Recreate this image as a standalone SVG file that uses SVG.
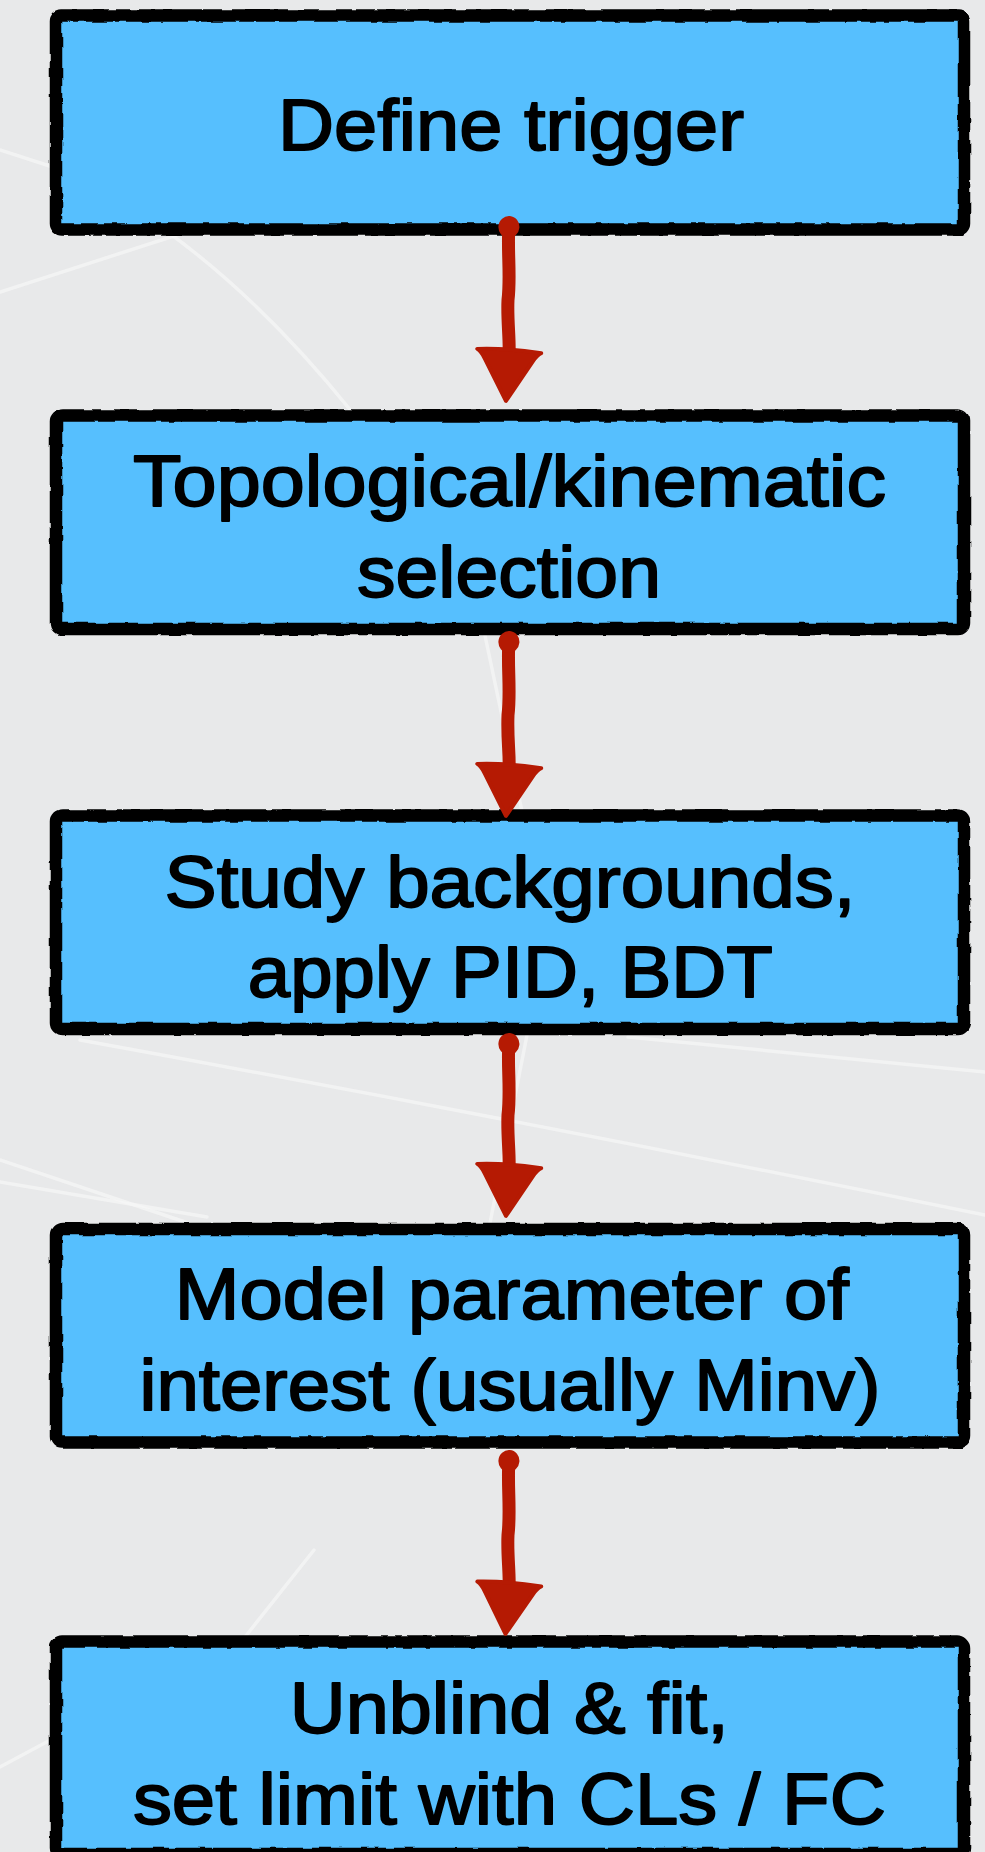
<svg xmlns="http://www.w3.org/2000/svg" width="985" height="1852" viewBox="0 0 985 1852">
<style>
.bg{fill:#E8E9EA}
.bgl{fill:none;stroke:#F6F7F7;stroke-width:3.5;stroke-opacity:0.7;stroke-linecap:round}
.fill{fill:#56BFFE;stroke:none}
.border{fill:none;stroke:#000;stroke-width:12.5;stroke-linejoin:round}
.lbl{font-family:"Liberation Sans",Arial,Helvetica,sans-serif;font-size:72px;fill:#000;stroke:#000;stroke-width:1.8;stroke-linejoin:round;text-anchor:middle}
.shaft{fill:none;stroke:#B51A03;stroke-width:13;stroke-linecap:round;marker-start:url(#cap);marker-end:url(#head)}
</style>
<defs>
<filter id="rough" x="-3%" y="-3%" width="106%" height="106%">
<feTurbulence type="fractalNoise" baseFrequency="0.06" numOctaves="2" seed="4" result="n"/>
<feDisplacementMap in="SourceGraphic" in2="n" scale="4" xChannelSelector="R" yChannelSelector="G"/>
</filter>
<marker id="head" markerUnits="userSpaceOnUse" viewBox="-56 -40 62 80" markerWidth="62" markerHeight="80" refX="-45" refY="0" orient="auto">
<path d="M-49,-32 Q-47,-28 -40,-24 L1,0 L-40,24 Q-47,28 -49,32 Q-52,0 -49,-32 Z" fill="#B51A03" stroke="#B51A03" stroke-width="4" stroke-linejoin="round"/>
</marker>
<marker id="cap" markerUnits="userSpaceOnUse" viewBox="-14 -14 28 28" markerWidth="28" markerHeight="28" refX="0" refY="0" orient="auto">
<ellipse cx="1" cy="0" rx="11" ry="10.5" fill="#B51A03"/>
</marker>
</defs>
<rect class="bg" x="0" y="0" width="985" height="1852"/>
<g id="background-lines">
<path class="bgl" d="M0,150 L62,170"/>
<path class="bgl" d="M0,292 L230,218"/>
<path class="bgl" d="M165,230 Q262,300 352,412"/>
<path class="bgl" d="M483,626 L523,816"/>
<path class="bgl" d="M80,1040 Q520,1120 985,1215"/>
<path class="bgl" d="M0,1160 L188,1223"/>
<path class="bgl" d="M528,1030 L490,1223"/>
<path class="bgl" d="M628,1037 L985,1072"/>
<path class="bgl" d="M0,1182 L207,1217"/>
<path class="bgl" d="M314,1550 L245,1637"/>
<path class="bgl" d="M0,1767 L56,1737"/>
</g>
<g id="node1">
<rect class="fill" x="56" y="15.5" width="908" height="214" rx="6"/>
<rect class="border" x="56" y="15.5" width="908" height="214" rx="6" filter="url(#rough)"/>
<text class="lbl" x="511" y="150" textLength="466" lengthAdjust="spacingAndGlyphs">Define trigger</text>
</g>
<g id="node2">
<rect class="fill" x="56" y="415.5" width="908" height="213.5" rx="6"/>
<rect class="border" x="56" y="415.5" width="908" height="213.5" rx="6" filter="url(#rough)"/>
<text class="lbl" x="509.5" y="506" textLength="753" lengthAdjust="spacingAndGlyphs">Topological/kinematic</text>
<text class="lbl" x="509" y="597" textLength="304" lengthAdjust="spacingAndGlyphs">selection</text>
</g>
<g id="node3">
<rect class="fill" x="56" y="815.5" width="908" height="213.5" rx="6"/>
<rect class="border" x="56" y="815.5" width="908" height="213.5" rx="6" filter="url(#rough)"/>
<text class="lbl" x="510" y="907" textLength="691" lengthAdjust="spacingAndGlyphs">Study backgrounds,</text>
<text class="lbl" x="510.3" y="997" textLength="525" lengthAdjust="spacingAndGlyphs">apply PID, BDT</text>
</g>
<g id="node4">
<rect class="fill" x="56" y="1229" width="908" height="213.5" rx="6"/>
<rect class="border" x="56" y="1229" width="908" height="213.5" rx="6" filter="url(#rough)"/>
<text class="lbl" x="511.8" y="1319" textLength="674" lengthAdjust="spacingAndGlyphs">Model parameter of</text>
<text class="lbl" x="510" y="1410" textLength="741" lengthAdjust="spacingAndGlyphs">interest (usually Minv)</text>
</g>
<g id="node5">
<rect class="fill" x="56" y="1641.5" width="908" height="212.5" rx="6"/>
<rect class="border" x="56" y="1641.5" width="908" height="212.5" rx="6" filter="url(#rough)"/>
<text class="lbl" x="509.3" y="1733" textLength="439" lengthAdjust="spacingAndGlyphs">Unblind &amp; fit,</text>
<text class="lbl" x="509.4" y="1824" textLength="753" lengthAdjust="spacingAndGlyphs">set limit with CLs / FC</text>
</g>
<g id="connectors">
<path class="shaft" d="M509,226 C507,250 511,275 508,300 C507,320 510,340 509,355"/>
<path class="shaft" d="M509,641 C507,665 511,690 508,715 C507,740 510,755 509,770"/>
<path class="shaft" d="M509,1043 C507,1065 511,1090 508,1115 C507,1135 510,1155 509,1170"/>
<path class="shaft" d="M509,1460 C507,1485 511,1510 508,1535 C507,1555 510,1575 509,1588"/>
</g>
</svg>
